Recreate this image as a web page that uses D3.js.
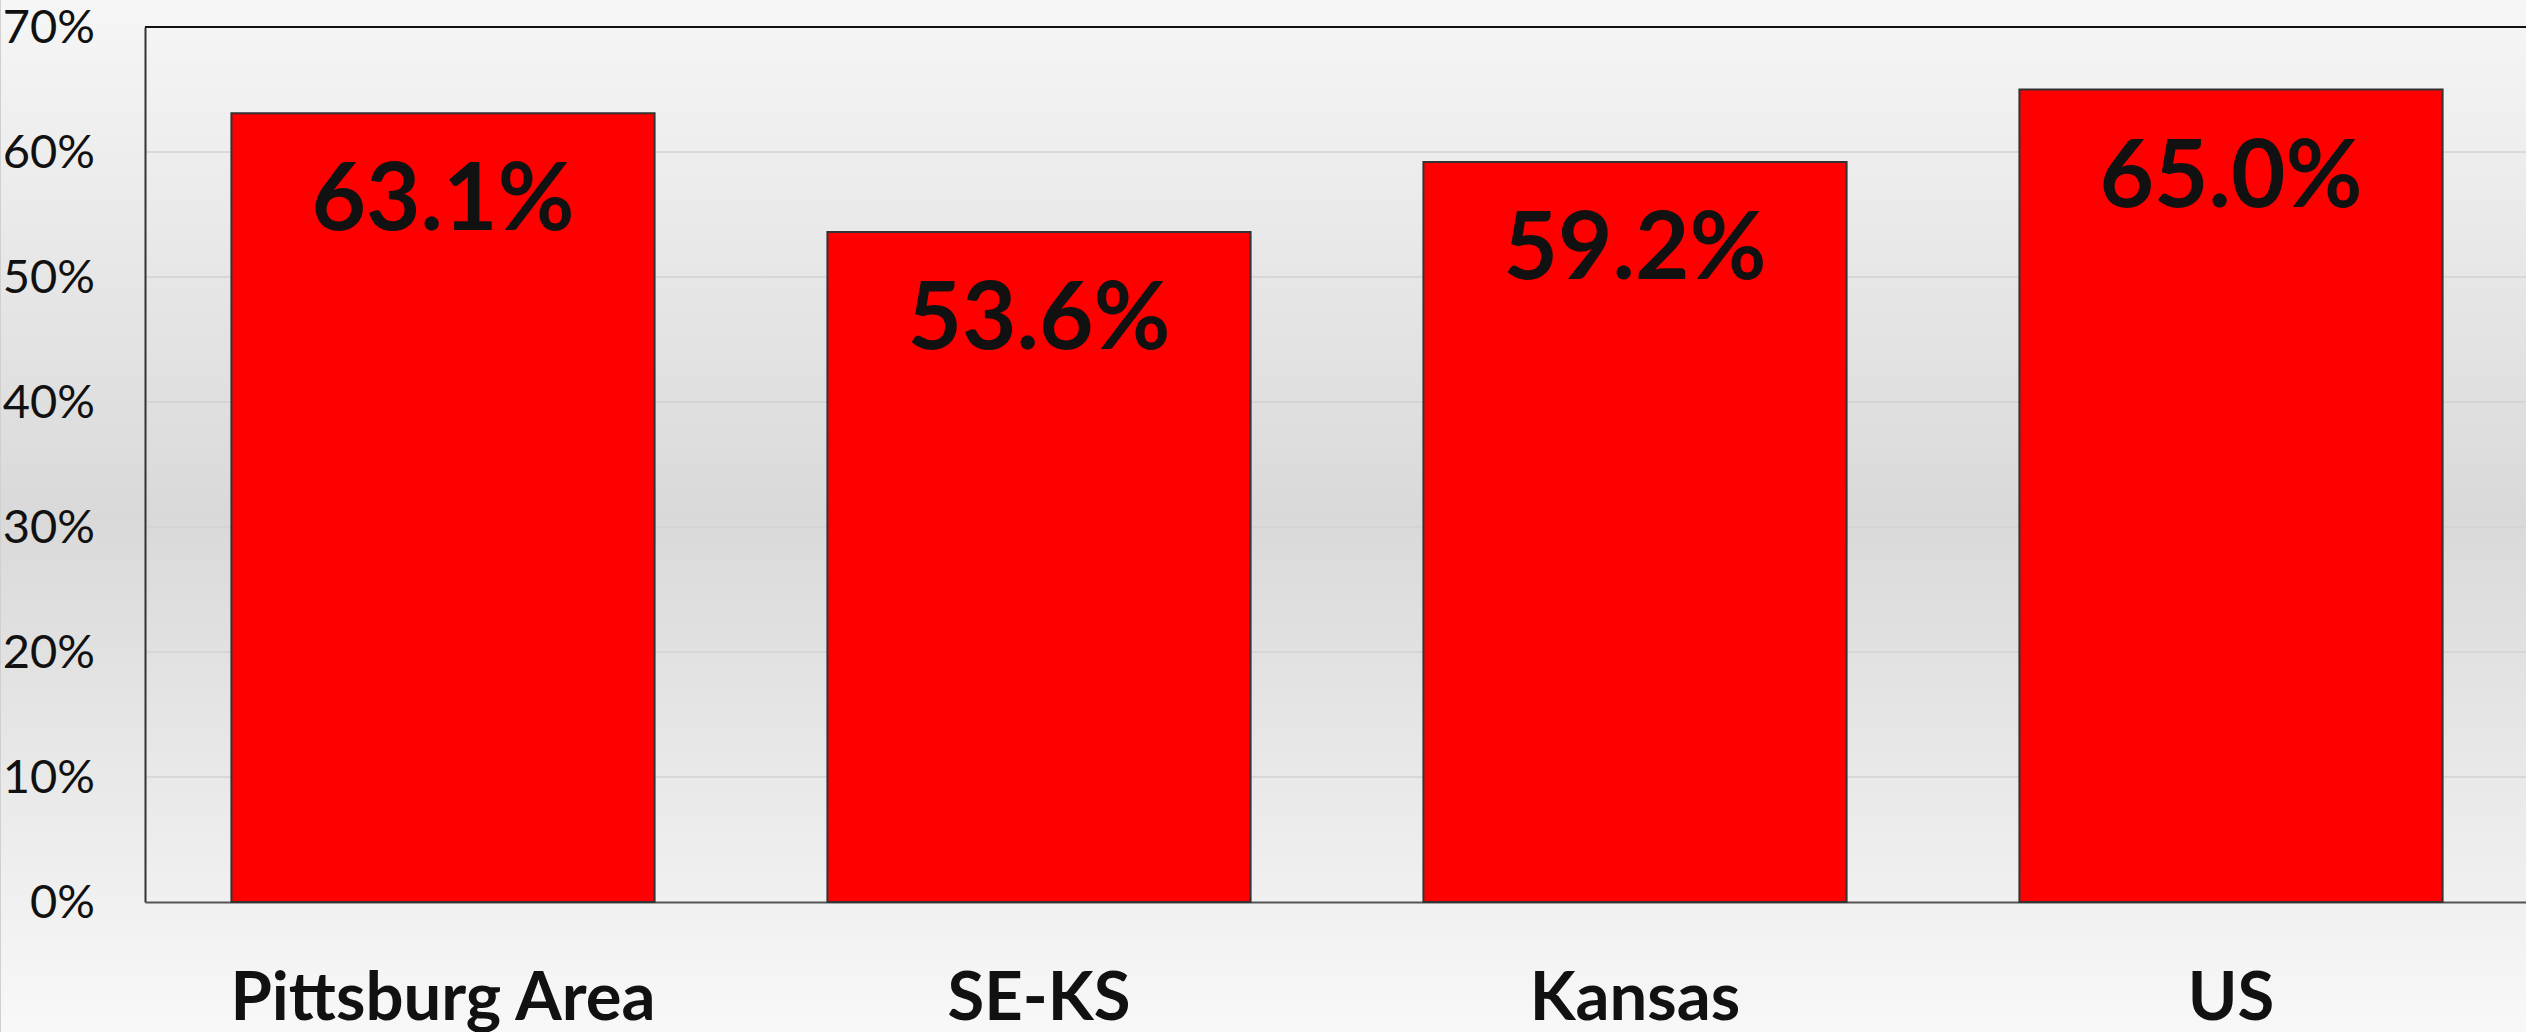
<!DOCTYPE html>
<html>
<head>
<meta charset="utf-8">
<script src="https://cdn.jsdelivr.net/npm/d3@7"></script>
<style>
  html, body { margin: 0; padding: 0; overflow: hidden; }
  svg { display: block; }
</style>
</head>
<body>
<div id="chart"></div>
<script>
// data
let categories = ['Pittsburg Area', 'SE-KS', 'Kansas', 'US'];
let values = [63.1, 53.6, 59.2, 65.0];
let yTicks = [0, 10, 20, 30, 40, 50, 60, 70];

let width = 2526;
let height = 1032;
let margin = {top: 27, right: -3, bottom: 130, left: 145};

let svg = d3.select('#chart')
    .append('svg')
    .attr('width', width)
    .attr('height', height);

// page background gradient
let defs = svg.append('defs');
let grad = defs.append('linearGradient')
    .attr('id', 'bg')
    .attr('x1', 0).attr('y1', 0)
    .attr('x2', 0).attr('y2', 1);
grad.append('stop').attr('offset', '0%').attr('stop-color', '#f6f6f6');
grad.append('stop').attr('offset', '50%').attr('stop-color', '#d9d9d9');
grad.append('stop').attr('offset', '100%').attr('stop-color', '#f8f8f8');

svg.append('rect')
    .attr('width', width)
    .attr('height', height)
    .attr('fill', 'url(#bg)');

svg.append('line')
    .attr('x1', 0.5).attr('x2', 0.5)
    .attr('y1', 0).attr('y2', height)
    .attr('stroke', '#d0d0d0');

let x = d3.scaleBand()
    .domain(categories)
    .range([margin.left, width - margin.right])
    .paddingInner(0.29)
    .paddingOuter(0.145);

let y = d3.scaleLinear()
    .domain([0, 70])
    .range([height - margin.bottom, margin.top]);

// gridlines
svg.append('g')
    .selectAll('line')
    .data(yTicks.slice(1, -1))
    .enter()
    .append('line')
        .attr('x1', margin.left)
        .attr('x2', width)
        .attr('y1', d => y(d))
        .attr('y2', d => y(d))
        .attr('stroke', '#d2d2d2')
        .attr('stroke-width', 1.5);

// plot frame: top
svg.append('line')
    .attr('x1', margin.left).attr('x2', width)
    .attr('y1', y(70)).attr('y2', y(70))
    .attr('stroke', '#111')
    .attr('stroke-width', 2);

// y axis
let yAxis = svg.append('g')
    .attr('transform', `translate(${margin.left}, 0)`)
    .call(d3.axisLeft(y).tickValues(yTicks).tickSize(0).tickPadding(50).tickFormat(d => d + '%'));
yAxis.select('.domain')
    .attr('stroke', '#333')
    .attr('stroke-width', 2);
yAxis.selectAll('text')
    .attr('font-family', 'Lato, sans-serif')
    .attr('font-size', 47)
    .attr('fill', '#111');

// x axis
let xAxis = svg.append('g')
    .attr('transform', `translate(0, ${y(0)})`)
    .call(d3.axisBottom(x).tickSize(0).tickPadding(70));
xAxis.select('.domain')
    .attr('stroke', '#555')
    .attr('stroke-width', 2);
xAxis.selectAll('text')
    .attr('font-family', 'Lato, sans-serif')
    .attr('font-weight', 'bold')
    .attr('font-size', 67)
    .attr('fill', '#111');

// bars
svg.selectAll('rect.bar')
    .data(values)
    .enter()
    .append('rect')
        .attr('class', 'bar')
        .attr('x', (d, i) => x(categories[i]))
        .attr('y', d => y(d))
        .attr('width', x.bandwidth())
        .attr('height', d => y(0) - y(d))
        .attr('fill', '#ff0000')
        .attr('stroke', '#333')
        .attr('stroke-width', 2);

// value labels
svg.selectAll('text.val')
    .data(values)
    .enter()
    .append('text')
        .attr('class', 'val')
        .attr('x', (d, i) => x(categories[i]) + x.bandwidth() / 2)
        .attr('y', d => y(d) + 117)
        .attr('text-anchor', 'middle')
        .attr('font-family', 'Lato, sans-serif')
        .attr('font-weight', 'bold')
        .attr('font-size', 94)
        .attr('fill', '#111')
        .text(d => d.toFixed(1) + '%');
</script>
</body>
</html>
